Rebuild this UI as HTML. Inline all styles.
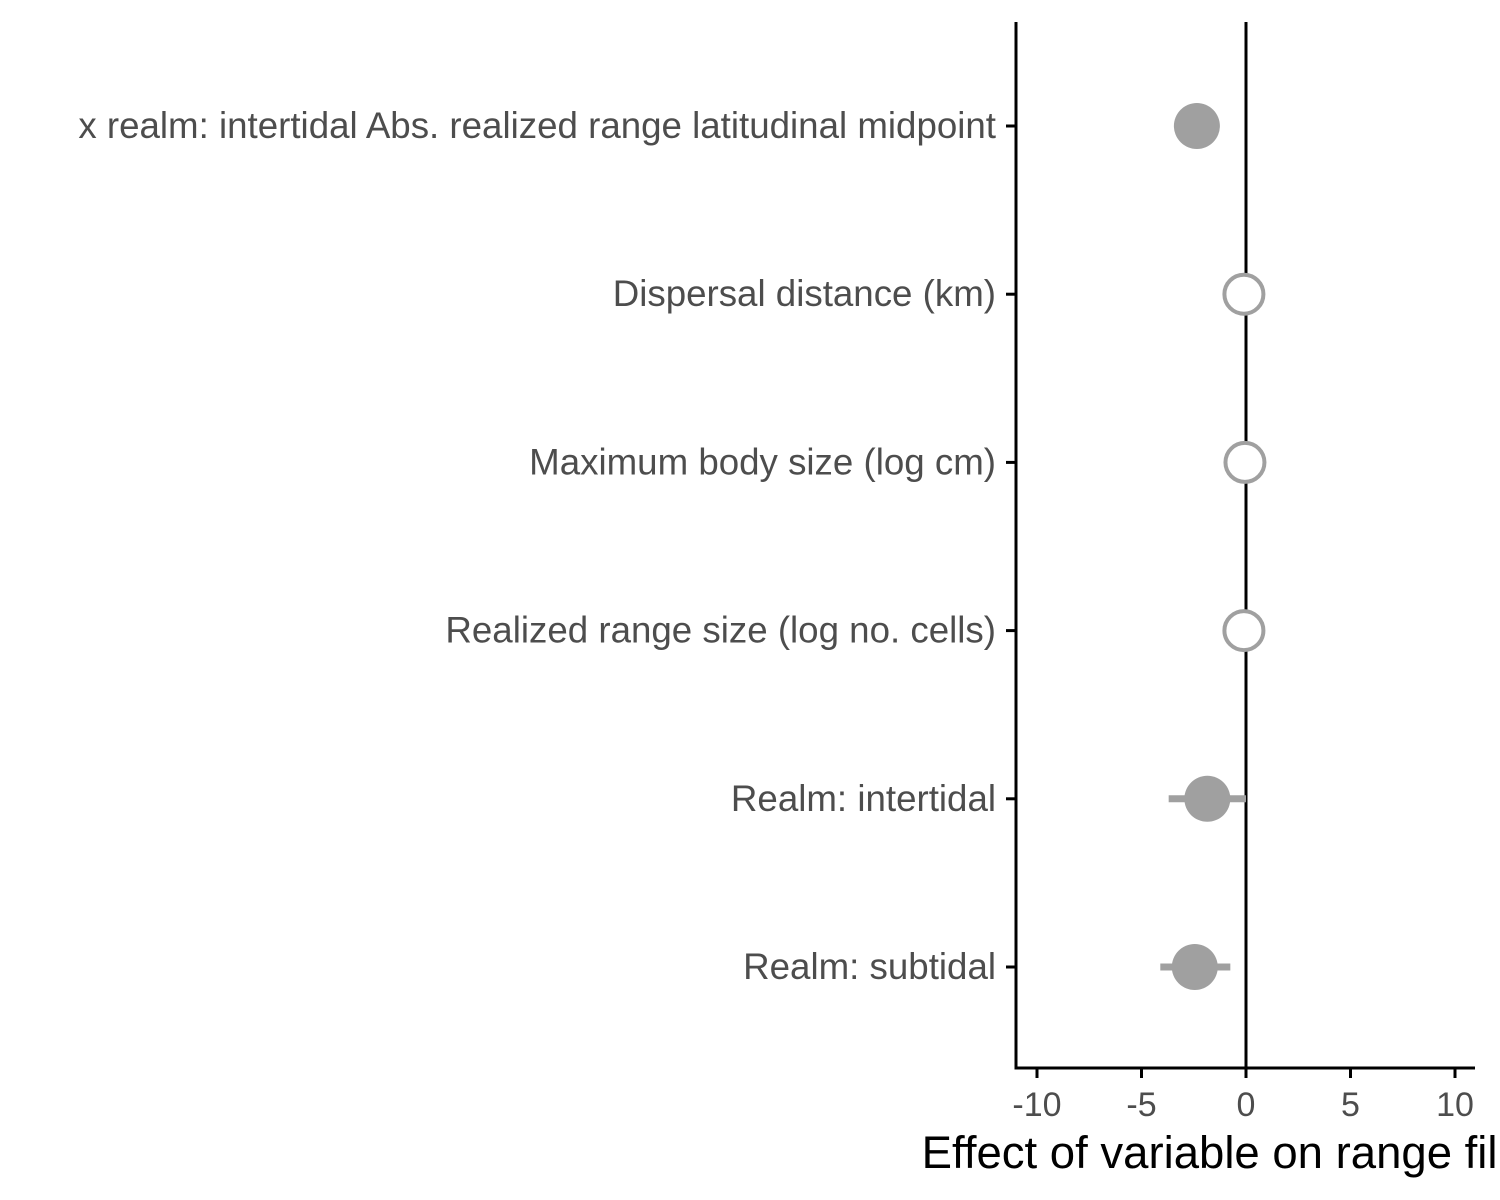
<!DOCTYPE html>
<html><head><meta charset="utf-8"><style>
html,body{margin:0;padding:0;background:#fff;overflow:hidden;}
svg{display:block;font-family:"Liberation Sans",Arial,sans-serif;}
</style></head><body>
<svg id="chart" width="1500" height="1200" viewBox="0 0 1500 1200">
<g id="grid"></g>
<g id="marks"></g>
<g id="axes"></g>
<text x="1245" y="1168" font-size="45.5" fill="#000" text-anchor="middle">Effect of variable on range filling</text>
</svg>
<script>
const categories = ["x realm: intertidal Abs. realized range latitudinal midpoint","Dispersal distance (km)","Maximum body size (log cm)","Realized range size (log no. cells)","Realm: intertidal","Realm: subtidal"];
const estimates = [-2.35, -0.1, -0.05, -0.1, -1.85, -2.45];
const lower = [-2.35, -0.1, -0.05, -0.1, -3.7, -4.1];
const upper = [-2.35, -0.1, -0.05, -0.1, 0, -0.75];
const significant = [true, false, false, false, true, true];
const xTicks = [-10, -5, 0, 5, 10];
const xTickLabels = ["-10","-5","0","5","10"];

const NS="http://www.w3.org/2000/svg";
const x = v => 1246 + v*20.9;
const y = i => 126 + i*168.2;
function mk(tag, attrs, parent){const e=document.createElementNS(NS,tag);for(const k in attrs)e.setAttribute(k,attrs[k]);parent.appendChild(e);return e;}
const axes=document.getElementById('axes'), marks=document.getElementById('marks'), grid=document.getElementById('grid');

let zl=mk('line',{x1:x(0),x2:x(0),y1:22,y2:1068,stroke:'#000','stroke-width':3},grid);



let ya=mk('line',{x1:1016,x2:1016,y1:22,y2:1069.5,stroke:'#000','stroke-width':3},axes);


let xa=mk('line',{x1:1014.5,x2:1475,y1:1068,y2:1068,stroke:'#000','stroke-width':3},axes);



xTicks.forEach((t,i)=>{
  let tk=mk('line',{x1:x(t),x2:x(t),y1:1068,y2:1078,stroke:'#000','stroke-width':3},axes);
  
  
  let tl=mk('text',{x:x(t),y:1116,'font-size':34,fill:'#4d4d4d','text-anchor':'middle'},axes);
  tl.textContent=xTickLabels[i];
  
  
});

categories.forEach((c,i)=>{
  let tk=mk('line',{x1:1006,x2:1016,y1:y(i),y2:y(i),stroke:'#000','stroke-width':3},axes);
  
  
  let tl=mk('text',{x:996,y:y(i)+12,'font-size':36.7,fill:'#4d4d4d','text-anchor':'end'},axes);
  tl.textContent=c;
  
  

  if(upper[i]-lower[i]>0.01){
    let ci=mk('line',{x1:x(lower[i]),x2:x(upper[i]),y1:y(i),y2:y(i),stroke:'#a0a0a0','stroke-width':7},marks);
    
    
  }
  let p;
  if(significant[i]){
    p=mk('circle',{cx:x(estimates[i]),cy:y(i),r:23,fill:'#a0a0a0'},marks);
  } else {
    p=mk('circle',{cx:x(estimates[i]),cy:y(i),r:19.5,fill:'#fff',stroke:'#a0a0a0','stroke-width':4},marks);
  }
  
  
});
</script>
</body></html>
